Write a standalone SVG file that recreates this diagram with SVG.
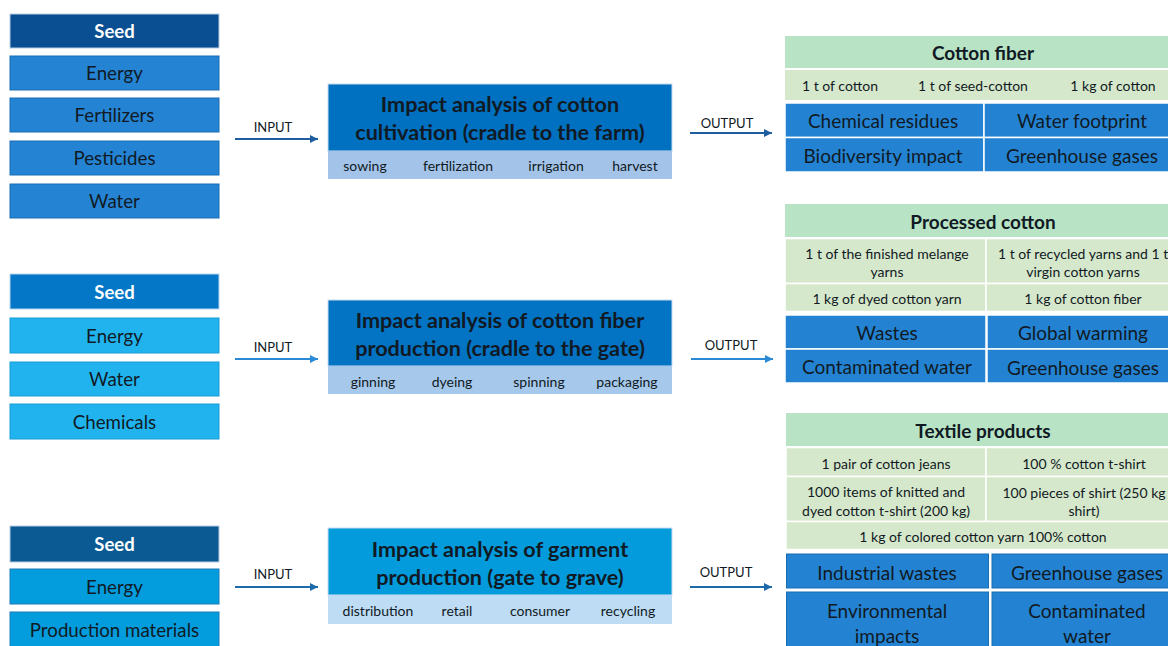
<svg xmlns="http://www.w3.org/2000/svg" width="1168" height="646" viewBox="0 0 1168 646">
<defs>
<marker id="ah1" viewBox="0 0 10 10" refX="10" refY="5" markerWidth="8" markerHeight="8" orient="auto" markerUnits="userSpaceOnUse"><path d="M0,0 L10,5 L0,10 z" fill="#1f5e9e"/></marker>
<marker id="ah2" viewBox="0 0 10 10" refX="10" refY="5" markerWidth="8" markerHeight="8" orient="auto" markerUnits="userSpaceOnUse"><path d="M0,0 L10,5 L0,10 z" fill="#2b8ad6"/></marker>
<marker id="ah3" viewBox="0 0 10 10" refX="10" refY="5" markerWidth="8" markerHeight="8" orient="auto" markerUnits="userSpaceOnUse"><path d="M0,0 L10,5 L0,10 z" fill="#1d6aab"/></marker>
</defs>
<style>
text{font-family:Lato,"Open Sans","Liberation Sans",sans-serif;dominant-baseline:central;text-anchor:middle;fill:#111a24}
.in{font-size:18.7px}
.seed{font-size:18.5px;font-weight:bold;fill:#ffffff}
.ttl{font-size:21.6px;font-weight:bold}
.sub{font-size:14px}
.lab{font-size:13px}
.gh{font-size:19px;font-weight:bold}
.gr{font-size:14px}
.bc{font-size:19px}
.b{stroke:#ffffff;stroke-width:1.5}
</style>
<rect width="1168" height="646" fill="#ffffff"/>

<g id="inputs1">
<rect x="10" y="14" width="209" height="34" fill="#0b4f93" stroke="#b9cde3" stroke-width="1"/><text class="seed" x="114.5" y="31">Seed</text>
<rect x="10" y="56" width="209" height="34" fill="#2484d3" stroke="#1a6db5" stroke-width="1"/><text class="in" x="114.5" y="73">Energy</text>
<rect x="10" y="98" width="209" height="34" fill="#2484d3" stroke="#1a6db5" stroke-width="1"/><text class="in" x="114.5" y="115">Fertilizers</text>
<rect x="10" y="141" width="209" height="34" fill="#2484d3" stroke="#1a6db5" stroke-width="1"/><text class="in" x="114.5" y="158">Pesticides</text>
<rect x="10" y="184" width="209" height="34" fill="#2484d3" stroke="#1a6db5" stroke-width="1"/><text class="in" x="114.5" y="201">Water</text>
</g>

<g id="inputs2">
<rect x="10" y="274" width="209" height="35" fill="#0577c7" stroke="#b9d5ee" stroke-width="1"/><text class="seed" x="114.5" y="292">Seed</text>
<rect x="10" y="318" width="209" height="35" fill="#20b3ee" stroke="#1a9bd6" stroke-width="1"/><text class="in" x="114.5" y="336">Energy</text>
<rect x="10" y="362" width="209" height="34" fill="#20b3ee" stroke="#1a9bd6" stroke-width="1"/><text class="in" x="114.5" y="379">Water</text>
<rect x="10" y="404" width="209" height="35" fill="#20b3ee" stroke="#1a9bd6" stroke-width="1"/><text class="in" x="114.5" y="422">Chemicals</text>
</g>

<g id="inputs3">
<rect x="10" y="526" width="209" height="36" fill="#0b5a94" stroke="#b9cde3" stroke-width="1"/><text class="seed" x="114.5" y="544">Seed</text>
<rect x="10" y="569" width="209" height="35" fill="#039cdc" stroke="#1a7fb8" stroke-width="1"/><text class="in" x="114.5" y="587">Energy</text>
<rect x="10" y="612" width="209" height="40" fill="#039cdc" stroke="#1a7fb8" stroke-width="1"/><text class="in" x="114.5" y="630">Production materials</text>
</g>

<g id="process1">
<rect x="328" y="84" width="344" height="67" fill="#0070c0" stroke="#c9dcee" stroke-width="1"/>
<text class="ttl" x="500" y="104">Impact analysis of cotton</text>
<text class="ttl" x="500" y="132">cultivation (cradle to the farm)</text>
<rect x="328" y="151" width="344" height="28" fill="#a3c4e8"/>
<text class="sub" x="365" y="165.5">sowing</text><text class="sub" x="458" y="165.5">fertilization</text><text class="sub" x="556" y="165.5">irrigation</text><text class="sub" x="635" y="165.5">harvest</text>
</g>

<g id="process2">
<rect x="328" y="300" width="344" height="66" fill="#0373c4" stroke="#c9dcee" stroke-width="1"/>
<text class="ttl" x="500" y="320">Impact analysis of cotton fiber</text>
<text class="ttl" x="500" y="348">production (cradle to the gate)</text>
<rect x="328" y="366" width="344" height="28" fill="#a6c8eb"/>
<text class="sub" x="373" y="381">ginning</text><text class="sub" x="452" y="381">dyeing</text><text class="sub" x="539" y="381">spinning</text><text class="sub" x="627" y="381">packaging</text>
</g>

<g id="process3">
<rect x="328" y="528" width="344" height="67" fill="#039bdb" stroke="#c9dcee" stroke-width="1"/>
<text class="ttl" x="500" y="549">Impact analysis of garment</text>
<text class="ttl" x="500" y="577">production (gate to grave)</text>
<rect x="328" y="595" width="344" height="29" fill="#bedcf4"/>
<text class="sub" x="378" y="610">distribution</text><text class="sub" x="457" y="610">retail</text><text class="sub" x="540" y="610">consumer</text><text class="sub" x="628" y="610">recycling</text>
</g>

<g id="output1">
<rect x="785" y="36" width="383" height="32" fill="#b8e4c5"/>
<text class="gh" x="983" y="52">Cotton fiber</text>
<rect x="785" y="70" width="383" height="30" fill="#d6e8cb"/>
<text class="gr" x="840" y="85">1 t of cotton</text><text class="gr" x="973" y="85">1 t of seed-cotton</text><text class="gr" x="1113" y="85">1 kg of cotton</text>
<rect class="b" x="785" y="103" width="199" height="34.5" fill="#2383d2"/><text class="bc" x="883" y="120.5">Chemical residues</text>
<rect class="b" x="984" y="103" width="190" height="34.5" fill="#2383d2"/><text class="bc" x="1082" y="120.5">Water footprint</text>
<rect class="b" x="785" y="137.5" width="199" height="34.5" fill="#2383d2"/><text class="bc" x="883" y="155.5">Biodiversity impact</text>
<rect class="b" x="984" y="137.5" width="190" height="34.5" fill="#2383d2"/><text class="bc" x="1082" y="155.5">Greenhouse gases</text>
</g>

<g id="output2">
<rect x="785" y="204" width="383" height="33" fill="#b8e4c5"/>
<text class="gh" x="983" y="221">Processed cotton</text>
<rect class="b" x="785" y="238.5" width="201" height="45" fill="#d6e8cb"/>
<rect class="b" x="986" y="238.5" width="188" height="45" fill="#d6e8cb"/>
<text class="gr" x="887" y="253">1 t of the finished melange</text><text class="gr" x="887" y="271">yarns</text>
<text class="gr" x="998" y="253" style="text-anchor:start">1 t of recycled yarns and 1 t</text><text class="gr" x="1083" y="271">virgin cotton yarns</text>
<rect class="b" x="785" y="283.5" width="201" height="28" fill="#d6e8cb"/>
<rect class="b" x="986" y="283.5" width="188" height="28" fill="#d6e8cb"/>
<text class="gr" x="887" y="298">1 kg of dyed cotton yarn</text><text class="gr" x="1083" y="298">1 kg of cotton fiber</text>
<rect class="b" x="785" y="315" width="201" height="34" fill="#2383d2"/><text class="bc" x="887" y="332">Wastes</text>
<rect class="b" x="987" y="315" width="187" height="34" fill="#2383d2"/><text class="bc" x="1083" y="332">Global warming</text>
<rect class="b" x="785" y="349" width="201" height="34" fill="#2383d2"/><text class="bc" x="887" y="366">Contaminated water</text>
<rect class="b" x="987" y="349" width="187" height="34" fill="#2383d2"/><text class="bc" x="1083" y="367">Greenhouse gases</text>
</g>

<g id="output3">
<rect x="786" y="413" width="382" height="33" fill="#b8e4c5"/>
<text class="gh" x="983" y="430">Textile products</text>
<rect class="b" x="786" y="447.5" width="200" height="29" fill="#d6e8cb"/>
<rect class="b" x="986" y="447.5" width="188" height="29" fill="#d6e8cb"/>
<text class="gr" x="886" y="463">1 pair of cotton jeans</text><text class="gr" x="1084" y="463">100 % cotton t-shirt</text>
<rect class="b" x="786" y="476.5" width="200" height="45" fill="#d6e8cb"/>
<rect class="b" x="986" y="476.5" width="188" height="45" fill="#d6e8cb"/>
<text class="gr" x="886" y="491">1000 items of knitted and</text><text class="gr" x="886" y="510">dyed cotton t-shirt (200 kg)</text>
<text class="gr" x="1084" y="492">100 pieces of shirt (250 kg</text><text class="gr" x="1084" y="510">shirt)</text>
<rect class="b" x="786" y="521.5" width="388" height="28" fill="#d6e8cb"/>
<text class="gr" x="983" y="536">1 kg of colored cotton yarn 100% cotton</text>
<rect x="786.5" y="554" width="202" height="34" fill="#2383d2" stroke="#1b6cb0" stroke-width="1"/><text class="bc" x="887" y="572">Industrial wastes</text>
<rect x="992" y="554" width="180" height="34" fill="#2383d2" stroke="#1b6cb0" stroke-width="1"/><text class="bc" x="1087" y="572">Greenhouse gases</text>
<rect x="786.5" y="592" width="202" height="60" fill="#2383d2" stroke="#1b6cb0" stroke-width="1"/><text class="bc" x="887" y="610">Environmental</text><text class="bc" x="887" y="635">impacts</text>
<rect x="992" y="592" width="180" height="60" fill="#2383d2" stroke="#1b6cb0" stroke-width="1"/><text class="bc" x="1087" y="610">Contaminated</text><text class="bc" x="1087" y="635">water</text>
</g>

<g id="connectors">
<line x1="235" y1="139" x2="318" y2="139" stroke="#1f5e9e" stroke-width="2" marker-end="url(#ah1)"/>
<text class="lab" x="273" y="127">INPUT</text>
<line x1="235" y1="359" x2="318" y2="359" stroke="#2b8ad6" stroke-width="2" marker-end="url(#ah2)"/>
<text class="lab" x="273" y="347">INPUT</text>
<line x1="235" y1="587" x2="318" y2="587" stroke="#1d6aab" stroke-width="2" marker-end="url(#ah3)"/>
<text class="lab" x="273" y="574">INPUT</text>
<line x1="690" y1="133" x2="772" y2="133" stroke="#1f5e9e" stroke-width="2" marker-end="url(#ah1)"/>
<text class="lab" x="727" y="123">OUTPUT</text>
<line x1="691" y1="359" x2="773" y2="359" stroke="#2b8ad6" stroke-width="2" marker-end="url(#ah2)"/>
<text class="lab" x="731" y="345">OUTPUT</text>
<line x1="690" y1="587" x2="772" y2="587" stroke="#1d6aab" stroke-width="2" marker-end="url(#ah3)"/>
<text class="lab" x="726" y="572">OUTPUT</text>
</g>
</svg>
